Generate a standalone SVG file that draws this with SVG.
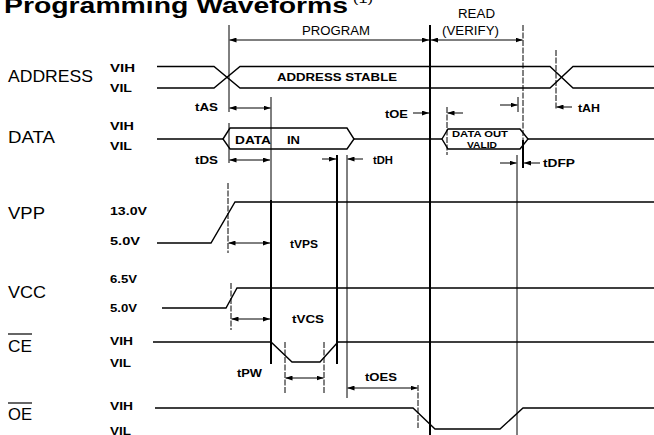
<svg xmlns="http://www.w3.org/2000/svg" width="654" height="435" viewBox="0 0 654 435">
<defs>
<marker id="ah" markerUnits="userSpaceOnUse" markerWidth="7" markerHeight="5" refX="7" refY="2.5" orient="auto-start-reverse">
<path d="M0,0 L7,2.5 L0,5 Z" fill="#000"/>
</marker>
</defs>
<style>
text { font-family: "Liberation Sans", Arial, sans-serif; fill:#000; }
.title { font-size:22px; font-weight:bold; }
.lbl { font-size:17px; }
.lv { font-size:10px; font-weight:bold; }
.t { font-size:11px; font-weight:bold; }
.hd { font-size:12px; }
.in { font-size:11px; font-weight:bold; }
.sm { font-size:8.5px; font-weight:bold; }
.w { fill:none; stroke:#000; stroke-width:1.4; }
.v { stroke:#000; stroke-width:1; fill:none; }
.vd { stroke:#000; stroke-width:1; stroke-dasharray:6 1.5; fill:none; }
.vt { stroke:#000; stroke-width:2; fill:none; }
.dm { stroke:#000; stroke-width:1; fill:none; marker-start:url(#ah); marker-end:url(#ah); }
.sa { stroke:#000; stroke-width:1; fill:none; marker-end:url(#ah); }
.ol { stroke:#000; stroke-width:1.2; }
</style>
<rect width="654" height="435" fill="#fff"/>

<text class="title" x="4" y="13" textLength="344" lengthAdjust="spacingAndGlyphs">Programming Waveforms</text>
<text x="353" y="3" font-size="10" textLength="20" lengthAdjust="spacingAndGlyphs">(1)</text>

<g id="header">
<text class="hd" x="302" y="35" textLength="68" lengthAdjust="spacingAndGlyphs">PROGRAM</text>
<text class="hd" x="458" y="18" textLength="37" lengthAdjust="spacingAndGlyphs">READ</text>
<text class="hd" x="442" y="35" textLength="57" lengthAdjust="spacingAndGlyphs">(VERIFY)</text>
</g>

<g id="address">
<text class="lbl" x="8" y="82" textLength="85" lengthAdjust="spacingAndGlyphs">ADDRESS</text>
<text class="lv" x="110" y="72" textLength="25" lengthAdjust="spacingAndGlyphs">VIH</text>
<text class="lv" x="110" y="92" textLength="22" lengthAdjust="spacingAndGlyphs">VIL</text>
<path class="w" d="M157,66.5 H214 L240,88 H550 L573,66.5 H654"/>
<path class="w" d="M157,88 H214 L240,66.5 H550 L573,88 H654"/>
<text class="in" x="277" y="81" textLength="120" lengthAdjust="spacingAndGlyphs">ADDRESS STABLE</text>
</g>

<g id="data">
<text class="lbl" x="8" y="143" textLength="47" lengthAdjust="spacingAndGlyphs">DATA</text>
<text class="lv" x="110" y="130" textLength="24" lengthAdjust="spacingAndGlyphs">VIH</text>
<text class="lv" x="110" y="150" textLength="22" lengthAdjust="spacingAndGlyphs">VIL</text>
<path class="w" d="M157,139 H223 M354,139 H442 M528,139 H654"/>
<path class="w" d="M223,139 L230,128 H347 L354,139 L347,149 H230 Z"/>
<path class="w" d="M442,139 L448,129 H520 L528,139 L520,149 H448 Z"/>
<text class="in" x="235" y="144" textLength="36" lengthAdjust="spacingAndGlyphs">DATA</text>
<text class="in" x="287" y="144" textLength="13" lengthAdjust="spacingAndGlyphs">IN</text>
<text class="sm" x="452" y="137" textLength="56" lengthAdjust="spacingAndGlyphs">DATA OUT</text>
<text class="sm" x="467" y="148" textLength="30" lengthAdjust="spacingAndGlyphs">VALID</text>
</g>

<g id="vpp">
<text class="lbl" x="8" y="219" textLength="37" lengthAdjust="spacingAndGlyphs">VPP</text>
<text class="lv" x="110" y="215" textLength="37" lengthAdjust="spacingAndGlyphs">13.0V</text>
<text class="lv" x="110" y="245" textLength="30" lengthAdjust="spacingAndGlyphs">5.0V</text>
<path class="w" d="M157,243 H211 L235,202 H654"/>
</g>

<g id="vcc">
<text class="lbl" x="8" y="298" textLength="38" lengthAdjust="spacingAndGlyphs">VCC</text>
<text class="lv" x="110" y="283" textLength="27" lengthAdjust="spacingAndGlyphs">6.5V</text>
<text class="lv" x="110" y="312" textLength="27" lengthAdjust="spacingAndGlyphs">5.0V</text>
<path class="w" d="M162,308 H226 L237,288 H654"/>
</g>

<g id="ce">
<text class="lbl" x="8" y="352" textLength="24" lengthAdjust="spacingAndGlyphs">CE</text>
<line class="ol" x1="8" y1="334" x2="32" y2="334"/>
<text class="lv" x="110" y="345" textLength="23" lengthAdjust="spacingAndGlyphs">VIH</text>
<text class="lv" x="110" y="367" textLength="21" lengthAdjust="spacingAndGlyphs">VIL</text>
<path class="w" d="M153,342 H271 L292,362 H320 L338,342 H654"/>
</g>

<g id="oe">
<text class="lbl" x="8" y="420" textLength="24" lengthAdjust="spacingAndGlyphs">OE</text>
<line class="ol" x1="8" y1="403" x2="32" y2="403"/>
<text class="lv" x="110" y="410" textLength="23" lengthAdjust="spacingAndGlyphs">VIH</text>
<text class="lv" x="110" y="435" textLength="21" lengthAdjust="spacingAndGlyphs">VIL</text>
<path class="w" d="M155,408 H413 L435,429 H500 L523,408 H654"/>
</g>

<g id="connectors">
<!-- reference verticals -->
<line class="v" x1="229" y1="25" x2="229" y2="112"/>
<line class="v" x1="229" y1="123" x2="229" y2="163"/>
<line class="vd" x1="228" y1="183" x2="228" y2="253"/>
<line class="vd" x1="231" y1="283" x2="231" y2="330"/>
<line class="v" x1="271" y1="97" x2="271" y2="200"/>
<line class="vt" x1="271" y1="200" x2="271" y2="364"/>
<line class="vd" x1="285" y1="342" x2="285" y2="393"/>
<line class="vd" x1="324" y1="342" x2="324" y2="393"/>
<line class="vt" x1="337" y1="155" x2="337" y2="364"/>
<line class="v" x1="347" y1="155" x2="347" y2="398"/>
<line class="vd" x1="418" y1="385" x2="418" y2="428"/>
<line class="vt" x1="430" y1="25" x2="430" y2="435"/>
<line class="vd" x1="447" y1="107" x2="447" y2="155"/>
<line class="v" x1="518" y1="97" x2="518" y2="112"/>
<line class="vd" x1="523" y1="25" x2="523" y2="140"/>
<line class="vt" x1="523" y1="140" x2="523" y2="168"/>
<line class="v" x1="517" y1="155" x2="517" y2="435"/>
<line class="vd" x1="556" y1="50" x2="556" y2="110"/>
<!-- dimension arrows -->
<line class="dm" x1="229.5" y1="40" x2="429" y2="40"/>
<line class="dm" x1="431" y1="40" x2="522.5" y2="40"/>
<line class="dm" x1="229.5" y1="108" x2="270.5" y2="108"/>
<line class="dm" x1="229.5" y1="160" x2="270" y2="160"/>
<line class="dm" x1="228.5" y1="243" x2="270" y2="243"/>
<line class="dm" x1="231.5" y1="319" x2="270" y2="319"/>
<line class="dm" x1="285.5" y1="378" x2="323.5" y2="378"/>
<line class="dm" x1="347.5" y1="388" x2="417.5" y2="388"/>
<line class="sa" x1="322" y1="159" x2="336" y2="159"/>
<line class="sa" x1="363" y1="159" x2="347.5" y2="159"/>
<line class="sa" x1="413" y1="113" x2="429" y2="113"/>
<line class="sa" x1="463" y1="113" x2="447.5" y2="113"/>
<line class="sa" x1="500" y1="105" x2="517.5" y2="105"/>
<line class="sa" x1="500" y1="163" x2="516.5" y2="163"/>
<line class="sa" x1="540" y1="163" x2="524" y2="163"/>
<line class="sa" x1="572" y1="107" x2="556.5" y2="107"/>
<!-- timing labels -->
<text class="t" x="195" y="111" textLength="23" lengthAdjust="spacingAndGlyphs">tAS</text>
<text class="t" x="195" y="164" textLength="23" lengthAdjust="spacingAndGlyphs">tDS</text>
<text class="t" x="373" y="164" textLength="20" lengthAdjust="spacingAndGlyphs">tDH</text>
<text class="t" x="385" y="118" textLength="23" lengthAdjust="spacingAndGlyphs">tOE</text>
<text class="t" x="578" y="112" textLength="22" lengthAdjust="spacingAndGlyphs">tAH</text>
<text class="t" x="543" y="167" textLength="32" lengthAdjust="spacingAndGlyphs">tDFP</text>
<text class="t" x="290" y="248" textLength="28" lengthAdjust="spacingAndGlyphs">tVPS</text>
<text class="t" x="292" y="323" textLength="32" lengthAdjust="spacingAndGlyphs">tVCS</text>
<text class="t" x="237" y="377" textLength="25" lengthAdjust="spacingAndGlyphs">tPW</text>
<text class="t" x="365" y="381" textLength="32" lengthAdjust="spacingAndGlyphs">tOES</text>
</g>
</svg>
